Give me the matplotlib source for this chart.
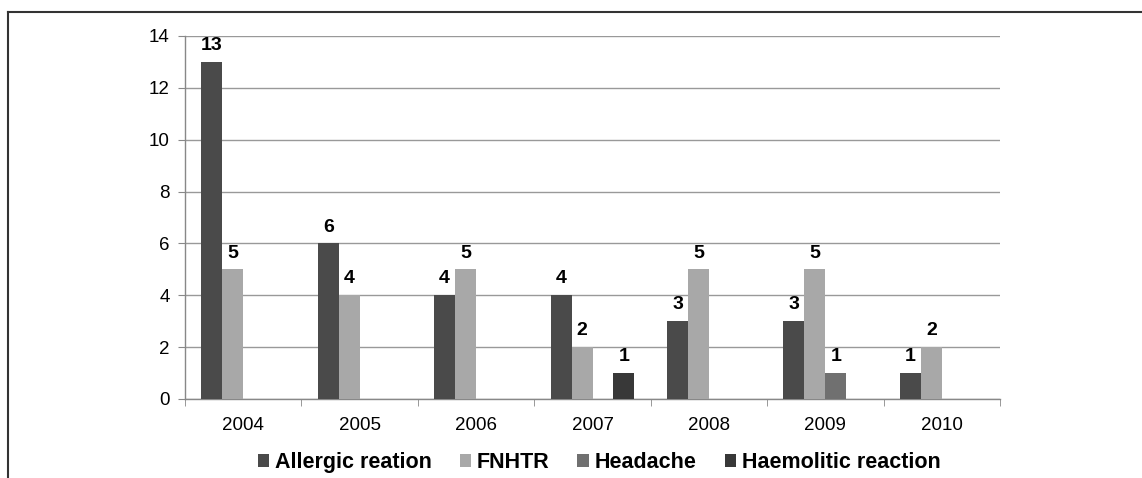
import matplotlib
matplotlib.use('Agg')
import matplotlib.pyplot as plt
from matplotlib.lines import Line2D
import numpy as np

years = ['2004', '2005', '2006', '2007', '2008', '2009', '2010']
allergic = [13, 6, 4, 4, 3, 3, 1]
fnhtr = [5, 4, 5, 2, 5, 5, 2]
headache = [0, 0, 0, 0, 0, 1, 0]
haemolytic = [0, 0, 0, 1, 0, 0, 0]

series = [('Allergic reation', allergic, '#4a4a4a'),
          ('FNHTR', fnhtr, '#a8a8a8'),
          ('Headache', headache, '#707070'),
          ('Haemolitic reaction', haemolytic, '#383838')]

plt.rcParams['font.family'] = ['Liberation Sans', 'DejaVu Sans']

fig = plt.figure(figsize=(11.42, 4.78), dpi=100)
ax = fig.add_axes([0.162, 0.1653, 0.7137, 0.7594])

x = np.arange(len(years))
w = 0.18
for i, (name, vals, col) in enumerate(series):
    pos = x - 1.5 * w + i * w
    bars = ax.bar(pos, vals, width=w, color=col, label=name, zorder=3)
    for b, v in zip(bars, vals):
        if v > 0:
            ax.text(b.get_x() + b.get_width() / 2, v + 0.3, str(v),
                    ha='center', va='bottom', fontsize=14, fontweight='bold')

ax.set_xlim(-0.5, len(years) - 0.5)
ax.set_ylim(0, 14)
ax.set_yticks(range(0, 15, 2))
ax.yaxis.grid(True, color='#999999', linewidth=1, zorder=0)
ax.set_xticks(x)
ax.set_xticklabels(years, fontsize=13.5)
ax.set_xticks(np.arange(-0.5, len(years)), minor=True)
ax.tick_params(axis='x', which='major', length=0, pad=13)
ax.tick_params(axis='x', which='minor', length=5, color='#888888', direction='out')
ax.tick_params(axis='y', length=5, color='#888888', labelsize=13.5, direction='out', pad=6)
for s in ['top', 'right']:
    ax.spines[s].set_visible(False)
for s in ['left', 'bottom']:
    ax.spines[s].set_color('#888888')
    ax.spines[s].set_linewidth(1)

ax.legend(loc='center', bbox_to_anchor=(0.508, -0.176), ncol=4, frameon=False,
          prop={'weight': 'bold', 'size': 15.5}, handlelength=0.55, handleheight=0.55,
          handletextpad=0.25, columnspacing=1.3)

fig.add_artist(Line2D([8 / 1142, 1], [1 - 12 / 478, 1 - 12 / 478], color='#333333', lw=1.5))
fig.add_artist(Line2D([8 / 1142, 8 / 1142], [0, 1 - 12 / 478], color='#333333', lw=1.5))

fig.savefig('out.png', dpi=100)
